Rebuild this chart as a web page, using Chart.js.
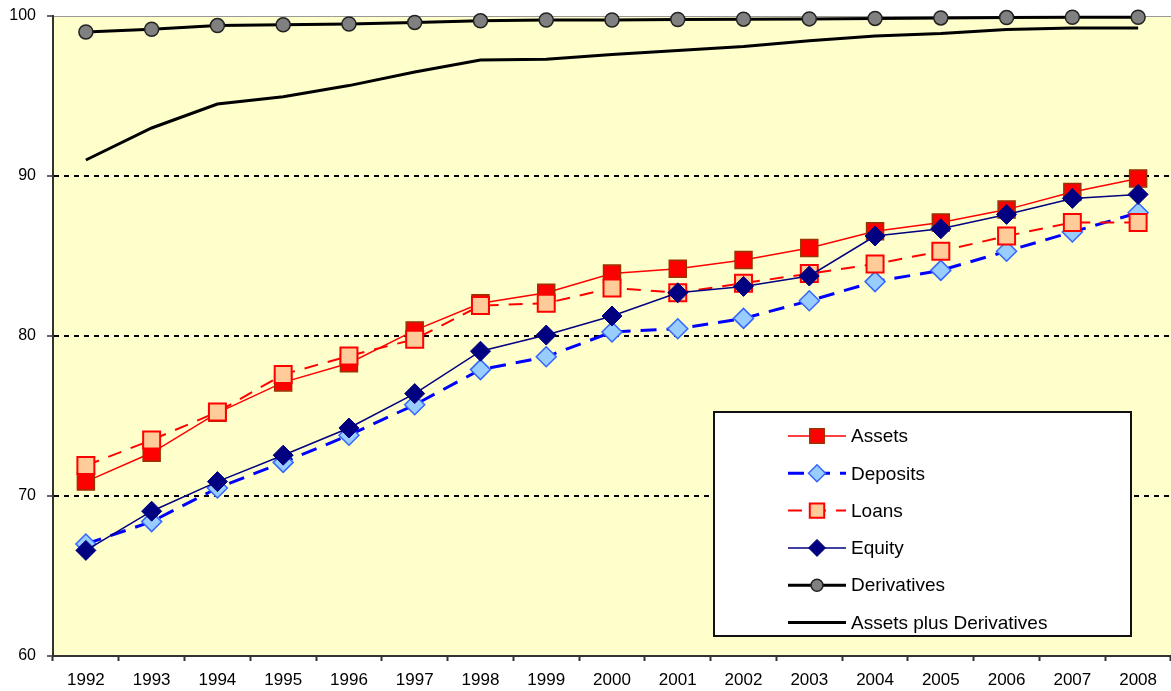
<!DOCTYPE html>
<html><head><meta charset="utf-8">
<style>html,body{margin:0;padding:0;background:#fff;overflow:hidden;}#wrap{position:relative;width:1171px;height:691px;}canvas{display:block;}</style>
<script src="https://cdn.jsdelivr.net/npm/chart.js@4.4.0/dist/chart.umd.min.js"></script>
</head><body><div id="wrap"><canvas id="c" width="1171" height="691"></canvas></div>
<script>
const years = ['1992','1993','1994','1995','1996','1997','1998','1999','2000','2001','2002','2003','2004','2005','2006','2007','2008'];
const yTicks = [60, 70, 80, 90, 100];
const assets = [70.9, 72.7, 75.2, 77.1, 78.3, 80.35, 82.05, 82.7, 83.9, 84.2, 84.75, 85.5, 86.55, 87.1, 87.9, 89.0, 89.85];
const deposits = [67.0, 68.4, 70.5, 72.1, 73.8, 75.7, 77.9, 78.7, 80.25, 80.45, 81.1, 82.2, 83.4, 84.1, 85.3, 86.5, 87.7];
const loans = [71.9, 73.5, 75.25, 77.6, 78.75, 79.8, 81.9, 82.05, 83.0, 82.7, 83.3, 83.9, 84.5, 85.3, 86.25, 87.1, 87.1];
const equity = [66.6, 69.05, 70.9, 72.55, 74.25, 76.4, 79.05, 80.06, 81.25, 82.7, 83.1, 83.75, 86.25, 86.7, 87.6, 88.6, 88.85];
const derivatives = [99.0, 99.17, 99.4, 99.45, 99.5, 99.6, 99.7, 99.75, 99.75, 99.78, 99.8, 99.82, 99.85, 99.88, 99.9, 99.92, 99.92];
const assetsPlusDerivatives = [91.0, 93.0, 94.5, 94.95, 95.65, 96.5, 97.25, 97.3, 97.6, 97.85, 98.1, 98.45, 98.75, 98.9, 99.15, 99.25, 99.25];

const FONT = '"Liberation Sans", Arial, sans-serif';

const bgPlugin = {
  id: 'bg',
  beforeDraw(chart) {
    const {ctx, chartArea: a} = chart;
    ctx.save();
    ctx.fillStyle = '#FFFFCC';
    ctx.fillRect(a.left, a.top, a.right - a.left, a.bottom - a.top);
    ctx.strokeStyle = '#999';
    ctx.lineWidth = 1;
    ctx.beginPath();
    ctx.moveTo(a.left, a.top + 0.5);
    ctx.lineTo(a.right, a.top + 0.5);
    ctx.stroke();
    ctx.restore();
  }
};

const legendPlugin = {
  id: 'boxLegend',
  afterDraw(chart) {
    const ctx = chart.ctx;
    ctx.save();
    ctx.fillStyle = '#fff';
    ctx.fillRect(714, 412, 417, 224);
    ctx.strokeStyle = '#111';
    ctx.lineWidth = 2;
    ctx.strokeRect(714, 412, 417, 224);
    chart.data.datasets.forEach((ds, i) => {
      const y = 436 + i * 37.3;
      ctx.save();
      ctx.strokeStyle = ds.borderColor;
      ctx.lineWidth = ds.borderWidth;
      ctx.setLineDash(ds.borderDash || []);
      ctx.beginPath();
      ctx.moveTo(788, y);
      ctx.lineTo(846, y);
      ctx.stroke();
      ctx.restore();
      if (ds.pointRadius > 0) {
        ctx.save();
        ctx.fillStyle = ds.pointBackgroundColor;
        ctx.strokeStyle = ds.pointBorderColor;
        ctx.lineWidth = ds.pointBorderWidth;
        ctx.setLineDash([]);
        Chart.helpers.drawPoint(ctx, {pointStyle: ds.pointStyle, radius: ds.pointRadius * 0.85, borderWidth: ds.pointBorderWidth, rotation: 0}, 817, y);
        ctx.restore();
      }
      ctx.fillStyle = '#000';
      ctx.font = '19px ' + FONT;
      ctx.textBaseline = 'middle';
      ctx.textAlign = 'left';
      ctx.fillText(ds.label, 851, y + 1);
    });
    ctx.restore();
  }
};

new Chart(document.getElementById('c'), {
  type: 'line',
  data: {
    labels: years,
    datasets: [
      {label: 'Assets', data: assets, borderColor: '#FF0000', borderWidth: 1.5, pointStyle: 'rect', pointRadius: 12,
       pointBackgroundColor: '#FF0000', pointBorderColor: '#993300', pointBorderWidth: 1.5, order: 6},
      {label: 'Deposits', data: deposits, borderColor: '#0000FF', borderWidth: 3, borderDash: [16, 10], pointStyle: 'rectRot', pointRadius: 10,
       pointBackgroundColor: '#99CCFF', pointBorderColor: '#3366FF', pointBorderWidth: 1.5, order: 5},
      {label: 'Loans', data: loans, borderColor: '#FF0000', borderWidth: 2, borderDash: [14, 10], pointStyle: 'rect', pointRadius: 12,
       pointBackgroundColor: '#FFCC99', pointBorderColor: '#FF0000', pointBorderWidth: 2, order: 4},
      {label: 'Equity', data: equity, borderColor: '#000080', borderWidth: 1.5, pointStyle: 'rectRot', pointRadius: 10,
       pointBackgroundColor: '#000080', pointBorderColor: '#000080', pointBorderWidth: 1, order: 3},
      {label: 'Derivatives', data: derivatives, borderColor: '#000000', borderWidth: 3, pointStyle: 'circle', pointRadius: 7,
       pointBackgroundColor: '#808080', pointBorderColor: '#222', pointBorderWidth: 1.5, order: 2},
      {label: 'Assets plus Derivatives', data: assetsPlusDerivatives, borderColor: '#000000', borderWidth: 3, pointRadius: 0,
       pointBackgroundColor: '#000', pointBorderColor: '#000', pointBorderWidth: 0, order: 1}
    ].map(d => Object.assign({fill: false, tension: 0, clip: false, pointHoverRadius: d.pointRadius}, d))
  },
  options: {
    responsive: false, animation: false, devicePixelRatio: 1,
    layout: {autoPadding: false, padding: {top: 16, right: 0, bottom: 0, left: 0}},
    plugins: {legend: {display: false}, tooltip: {enabled: false}},
    scales: {
      x: {
        type: 'category', offset: true,
        grid: {offset: true, drawOnChartArea: false, drawTicks: true, tickLength: 5, tickColor: '#333', tickWidth: 2},
        border: {display: true, color: '#333', width: 2},
        ticks: {font: {family: FONT, size: 17}, color: '#000', padding: 9, maxRotation: 0, autoSkip: false},
        afterFit(s) { s.height = 35; s.paddingLeft = 0; s.paddingRight = 0; }
      },
      y: {
        min: yTicks[0], max: yTicks[yTicks.length - 1],
        afterBuildTicks(s) { s.ticks = yTicks.map(v => ({value: v})); },
        ticks: {font: {family: FONT, size: 16}, color: '#000', padding: 11},
        grid: {
          color: c => (c.tick && c.tick.value > yTicks[0] && c.tick.value < yTicks[yTicks.length - 1]) ? '#000' : 'rgba(0,0,0,0)',
          lineWidth: 2, tickColor: '#333', tickLength: 6, tickWidth: 1.5, tickBorderDash: []
        },
        border: {color: '#333', width: 2, dash: [5, 5]},
        afterFit(s) { s.width = 53; s.paddingTop = 0; s.paddingBottom = 0; }
      }
    }
  },
  plugins: [bgPlugin, legendPlugin]
});
</script></body></html>
